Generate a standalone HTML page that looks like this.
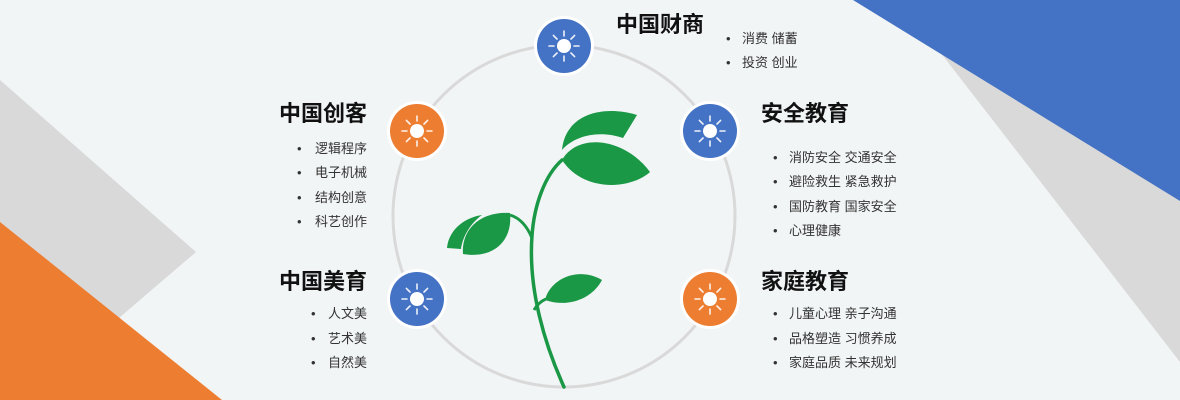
<!DOCTYPE html>
<html><head><meta charset="utf-8"><style>
html,body{margin:0;padding:0;background:#F2F5F6;}
svg{display:block;}
text{font-family:"Liberation Sans","Noto Sans CJK SC",sans-serif;}
.t{font-size:22px;font-weight:bold;fill:#111;}
.b{font-size:13px;fill:#333;}
</style></head><body>
<svg width="1180" height="400" viewBox="0 0 1180 400" xmlns="http://www.w3.org/2000/svg">
<defs>
<g id="sun">
<circle r="7" fill="#fff"/>
<g stroke="#fff" stroke-width="1.6" stroke-linecap="round" opacity="0.9">
<line x1="10" y1="0" x2="15" y2="0"/><line x1="-10" y1="0" x2="-15" y2="0"/>
<line x1="0" y1="10" x2="0" y2="15"/><line x1="0" y1="-10" x2="0" y2="-15"/>
<line x1="7" y1="7" x2="10.6" y2="10.6"/><line x1="-7" y1="7" x2="-10.6" y2="10.6"/>
<line x1="7" y1="-7" x2="10.6" y2="-10.6"/><line x1="-7" y1="-7" x2="-10.6" y2="-10.6"/>
</g></g>
</defs>
<rect width="1180" height="400" fill="#F2F5F6"/>
<polygon points="0,80 196,252 0,420" fill="#D9D9D9"/>
<polygon points="0,222 222,400 0,400" fill="#ED7D31"/>
<polygon points="940,52 1180,201 1180,362" fill="#D9D9D9"/>
<polygon points="853,0 1180,0 1180,201" fill="#4472C4"/>
<circle cx="564" cy="216" r="171" fill="none" stroke="#D9D9D9" stroke-width="3"/>
<g fill="#1A9846">
<path d="M564,387 C545,345 528,290 532,236 C534,205 545,175 562,160" fill="none" stroke="#1A9846" stroke-width="3.5" stroke-linecap="round"/>
<path d="M532,238 C527,226 520,218 510,215" fill="none" stroke="#1A9846" stroke-width="3"/>
<path d="M534,310 C537,305 541,301 546,299" fill="none" stroke="#1A9846" stroke-width="3"/>
<path d="M562,150 C565,116 600,104 637,115 L623,138 C600,130 575,135 562,150Z"/>
<path d="M562,160 C578,132 625,138 650,172 C630,190 583,192 562,160Z"/>
<path d="M463,254 C461,228 482,211 510,213 C513,242 492,259 463,254Z"/>
<path d="M447,248 C449,228 467,217 482,215 C468,225 462,240 461,249Z"/>
<path d="M545,300 C550,279 578,266 602,280 C592,299 568,308 545,300Z"/>
</g>
<g>
<circle cx="564" cy="46" r="30" fill="#fff"/><circle cx="564" cy="46" r="27" fill="#4472C4"/><use href="#sun" x="564" y="46"/>
<circle cx="417" cy="131" r="30" fill="#fff"/><circle cx="417" cy="131" r="27" fill="#ED7D31"/><use href="#sun" x="417" y="131"/>
<circle cx="710" cy="131" r="30" fill="#fff"/><circle cx="710" cy="131" r="27" fill="#4472C4"/><use href="#sun" x="710" y="131"/>
<circle cx="417" cy="299" r="30" fill="#fff"/><circle cx="417" cy="299" r="27" fill="#4472C4"/><use href="#sun" x="417" y="299"/>
<circle cx="710" cy="299" r="30" fill="#fff"/><circle cx="710" cy="299" r="27" fill="#ED7D31"/><use href="#sun" x="710" y="299"/>
</g>
<text class="t" x="616" y="32">中国财商</text>
<text class="b" x="726" y="43">•</text><text class="b" x="742" y="43">消费 储蓄</text>
<text class="b" x="726" y="67">•</text><text class="b" x="742" y="67">投资 创业</text>

<text class="t" x="761" y="121">安全教育</text>
<text class="b" x="773" y="162">•</text><text class="b" x="789" y="162">消防安全 交通安全</text>
<text class="b" x="773" y="186">•</text><text class="b" x="789" y="186">避险救生 紧急救护</text>
<text class="b" x="773" y="211">•</text><text class="b" x="789" y="211">国防教育 国家安全</text>
<text class="b" x="773" y="235">•</text><text class="b" x="789" y="235">心理健康</text>

<text class="t" x="761" y="289">家庭教育</text>
<text class="b" x="773" y="318">•</text><text class="b" x="789" y="318">儿童心理 亲子沟通</text>
<text class="b" x="773" y="343">•</text><text class="b" x="789" y="343">品格塑造 习惯养成</text>
<text class="b" x="773" y="367">•</text><text class="b" x="789" y="367">家庭品质 未来规划</text>

<text class="t" x="367" y="121" text-anchor="end">中国创客</text>
<text class="b" x="297" y="153">•</text><text class="b" x="367" y="153" text-anchor="end">逻辑程序</text>
<text class="b" x="297" y="177">•</text><text class="b" x="367" y="177" text-anchor="end">电子机械</text>
<text class="b" x="297" y="202">•</text><text class="b" x="367" y="202" text-anchor="end">结构创意</text>
<text class="b" x="297" y="226">•</text><text class="b" x="367" y="226" text-anchor="end">科艺创作</text>

<text class="t" x="367" y="289" text-anchor="end">中国美育</text>
<text class="b" x="311" y="318">•</text><text class="b" x="367" y="318" text-anchor="end">人文美</text>
<text class="b" x="311" y="343">•</text><text class="b" x="367" y="343" text-anchor="end">艺术美</text>
<text class="b" x="311" y="367">•</text><text class="b" x="367" y="367" text-anchor="end">自然美</text>
</svg>
</body></html>
